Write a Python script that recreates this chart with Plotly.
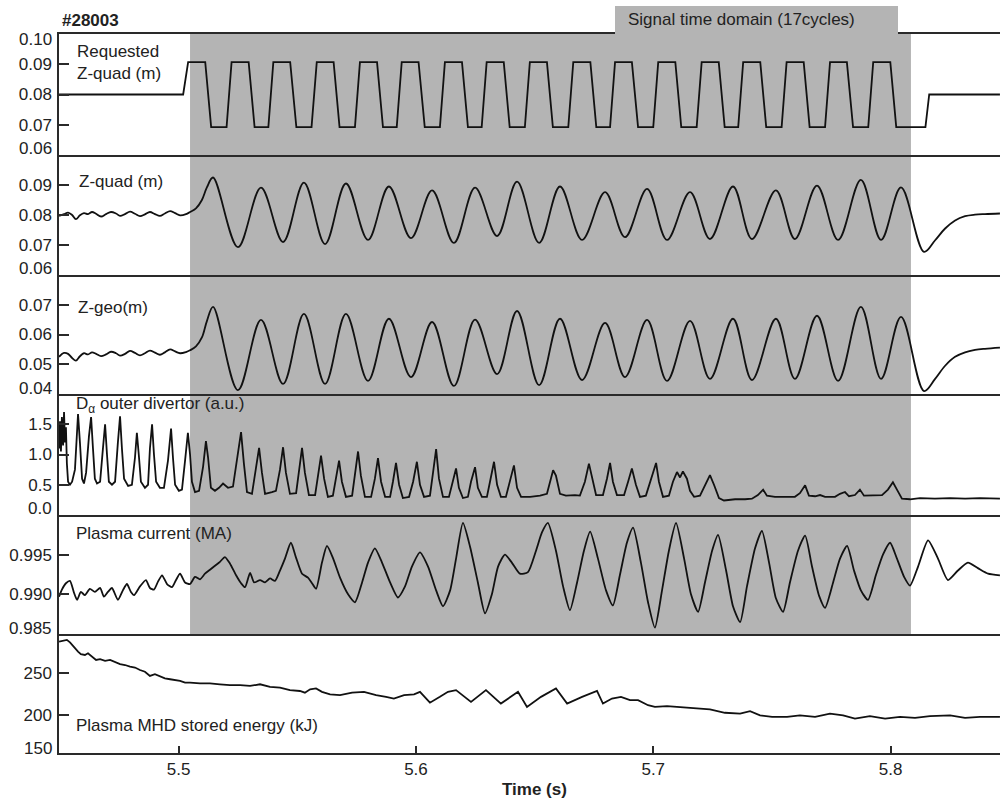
import plotly.graph_objects as go
from plotly.subplots import make_subplots

# ---------------- data (time in s) ----------------
# Requested Z-quad (m)
req_t = [5.4496, 5.5019,
         5.5040, 5.5112, 5.5137, 5.5202,
         5.5223, 5.5295, 5.5320, 5.5378,
         5.5399, 5.5470, 5.5496, 5.5560,
         5.5582, 5.5653, 5.5678, 5.5743,
         5.5764, 5.5836, 5.5861, 5.5919,
         5.5940, 5.6011, 5.6037, 5.6101,
         5.6122, 5.6194, 5.6219, 5.6277,
         5.6298, 5.6370, 5.6395, 5.6459,
         5.6480, 5.6552, 5.6577, 5.6642,
         5.6663, 5.6735, 5.6760, 5.6818,
         5.6839, 5.6910, 5.6936, 5.7000,
         5.7021, 5.7093, 5.7118, 5.7183,
         5.7204, 5.7276, 5.7301, 5.7358,
         5.7379, 5.7451, 5.7476, 5.7541,
         5.7562, 5.7634, 5.7659, 5.7724,
         5.7745, 5.7816, 5.7842, 5.7906,
         5.7927, 5.7999, 5.8024, 5.8147,
         5.8163, 5.8461]
req_z = [0.0800, 0.0800,
         0.0907, 0.0907, 0.0692, 0.0692,
         0.0907, 0.0907, 0.0692, 0.0692,
         0.0907, 0.0907, 0.0692, 0.0692,
         0.0907, 0.0907, 0.0692, 0.0692,
         0.0907, 0.0907, 0.0692, 0.0692,
         0.0907, 0.0907, 0.0692, 0.0692,
         0.0907, 0.0907, 0.0692, 0.0692,
         0.0907, 0.0907, 0.0692, 0.0692,
         0.0907, 0.0907, 0.0692, 0.0692,
         0.0907, 0.0907, 0.0692, 0.0692,
         0.0907, 0.0907, 0.0692, 0.0692,
         0.0907, 0.0907, 0.0692, 0.0692,
         0.0907, 0.0907, 0.0692, 0.0692,
         0.0907, 0.0907, 0.0692, 0.0692,
         0.0907, 0.0907, 0.0692, 0.0692,
         0.0907, 0.0907, 0.0692, 0.0692,
         0.0907, 0.0907, 0.0692, 0.0692,
         0.0800, 0.0800]

# Z-quad and Z-geo (m), common sample times
z_t = [5.4496, 5.4517, 5.4534, 5.4551, 5.4567, 5.4584, 5.4601, 5.4618, 5.4635, 5.4652,
       5.4673, 5.4694, 5.4715, 5.4736, 5.4753, 5.4774, 5.4795, 5.4816, 5.4837, 5.4858,
       5.4879, 5.4900, 5.4921, 5.4942, 5.4964, 5.4985, 5.5006, 5.5031, 5.5048, 5.5073,
       5.5098, 5.5119,
       5.5145, 5.5250, 5.5347, 5.5440, 5.5528, 5.5617, 5.5705, 5.5798, 5.5886, 5.5979,
       5.6068, 5.6160, 5.6249, 5.6342, 5.6426, 5.6519, 5.6607, 5.6700, 5.6797, 5.6881,
       5.6974, 5.7058, 5.7155, 5.7239, 5.7336, 5.7416, 5.7517, 5.7597, 5.7690, 5.7779,
       5.7875, 5.7960, 5.8044, 5.8141,
       5.8187, 5.8230, 5.8272, 5.8314, 5.8356, 5.8398, 5.8461]
zquad = [0.0797, 0.0803, 0.0808, 0.0800, 0.0786, 0.0799, 0.0806, 0.0803, 0.0810, 0.0804,
         0.0795, 0.0803, 0.0810, 0.0805, 0.0797, 0.0803, 0.0811, 0.0804, 0.0796, 0.0802,
         0.0810, 0.0803, 0.0797, 0.0805, 0.0813, 0.0806, 0.0799, 0.0803, 0.0810, 0.0822,
         0.0850, 0.0892,
         0.0925, 0.0693, 0.0891, 0.0710, 0.0908, 0.0703, 0.0905, 0.0717, 0.0895, 0.0723,
         0.0882, 0.0707, 0.0891, 0.0730, 0.0911, 0.0707, 0.0895, 0.0717, 0.0876, 0.0726,
         0.0887, 0.0717, 0.0876, 0.0720, 0.0895, 0.0720, 0.0882, 0.0720, 0.0898, 0.0717,
         0.0917, 0.0717, 0.0892, 0.0677,
         0.0715, 0.0755, 0.0782, 0.0796, 0.0801, 0.0803, 0.0805]
zgeo = [0.0525, 0.0538, 0.0535, 0.0521, 0.0512, 0.0527, 0.0537, 0.0533, 0.0540, 0.0535,
        0.0527, 0.0533, 0.0542, 0.0537, 0.0529, 0.0535, 0.0545, 0.0538, 0.0530, 0.0537,
        0.0546, 0.0539, 0.0532, 0.0540, 0.0550, 0.0543, 0.0537, 0.0541, 0.0547, 0.0560,
        0.0590, 0.0645,
        0.0693, 0.0413, 0.0649, 0.0434, 0.0669, 0.0434, 0.0669, 0.0444, 0.0653, 0.0457,
        0.0642, 0.0427, 0.0650, 0.0467, 0.0679, 0.0430, 0.0653, 0.0447, 0.0639, 0.0457,
        0.0649, 0.0444, 0.0646, 0.0451, 0.0653, 0.0447, 0.0653, 0.0451, 0.0663, 0.0444,
        0.0693, 0.0451, 0.0659, 0.0410,
        0.0450, 0.0495, 0.0525, 0.0540, 0.0548, 0.0552, 0.0556]

# D-alpha outer divertor (a.u.)
da_t = [5.4496, 5.4500, 5.4504, 5.4508, 5.4513, 5.4517, 5.4521, 5.4525, 5.4529, 5.4534,
        5.4542, 5.4551, 5.4563, 5.4576, 5.4584, 5.4593, 5.4601, 5.4610, 5.4622, 5.4631,
        5.4639, 5.4647, 5.4656, 5.4669, 5.4681, 5.4690, 5.4698, 5.4706, 5.4719, 5.4732,
        5.4744, 5.4753, 5.4761, 5.4770, 5.4787, 5.4803, 5.4816, 5.4824, 5.4833, 5.4841,
        5.4858, 5.4871, 5.4879, 5.4888, 5.4896, 5.4905, 5.4921, 5.4938, 5.4955, 5.4968,
        5.4976, 5.4985, 5.5001, 5.5014, 5.5027, 5.5039, 5.5048, 5.5056, 5.5069, 5.5086,
        5.5103, 5.5115, 5.5124, 5.5136, 5.5153, 5.5170, 5.5187, 5.5208, 5.5229, 5.5242,
        5.5263, 5.5275, 5.5288, 5.5309, 5.5322, 5.5339, 5.5351, 5.5364, 5.5393, 5.5410,
        5.5427, 5.5440, 5.5452, 5.5469, 5.5495, 5.5507, 5.5520, 5.5532, 5.5549, 5.5575,
        5.5587, 5.5600, 5.5613, 5.5629, 5.5650, 5.5663, 5.5676, 5.5688, 5.5705, 5.5731,
        5.5743, 5.5756, 5.5768, 5.5785, 5.5811, 5.5827, 5.5840, 5.5853, 5.5870, 5.5891,
        5.5903, 5.5916, 5.5929, 5.5945, 5.5971, 5.5988, 5.6004, 5.6017, 5.6034, 5.6059,
        5.6072, 5.6085, 5.6097, 5.6114, 5.6139, 5.6152, 5.6169, 5.6181, 5.6198, 5.6219,
        5.6232, 5.6249, 5.6261, 5.6278, 5.6299, 5.6312, 5.6329, 5.6342, 5.6358, 5.6379,
        5.6396, 5.6413, 5.6426, 5.6443, 5.6481, 5.6523, 5.6552, 5.6565, 5.6578, 5.6590,
        5.6607, 5.6632, 5.6670, 5.6691, 5.6712, 5.6729, 5.6742, 5.6759, 5.6788, 5.6805,
        5.6818, 5.6830, 5.6847, 5.6877, 5.6894, 5.6910, 5.6927, 5.6944, 5.6969, 5.6986,
        5.7012, 5.7024, 5.7041, 5.7066, 5.7083, 5.7100, 5.7113, 5.7125, 5.7142, 5.7155,
        5.7172, 5.7197, 5.7218, 5.7239, 5.7256, 5.7277, 5.7298, 5.7345, 5.7387, 5.7416,
        5.7441, 5.7463, 5.7479, 5.7513, 5.7555, 5.7597, 5.7618, 5.7640, 5.7656, 5.7682,
        5.7703, 5.7724, 5.7766, 5.7787, 5.7808, 5.7825, 5.7850, 5.7871, 5.7888, 5.7922,
        5.7964, 5.7989, 5.8010, 5.8027, 5.8048, 5.8082, 5.8124, 5.8187, 5.8251, 5.8314,
        5.8377, 5.8461]
da = [1.10, 1.55, 1.05, 1.62, 1.15, 1.70, 1.20, 1.45, 0.85, 0.55,
      0.50, 0.55, 0.75, 1.67, 1.20, 0.60, 0.52, 0.70, 1.30, 1.62,
      1.10, 0.60, 0.52, 0.55, 1.10, 1.50, 1.00, 0.55, 0.50, 0.55,
      1.20, 1.63, 1.10, 0.60, 0.48, 0.50, 0.95, 1.36, 0.95, 0.55,
      0.45, 0.50, 1.10, 1.50, 1.00, 0.55, 0.45, 0.45, 0.90, 1.43,
      0.95, 0.50, 0.40, 0.42, 0.90, 1.36, 1.00, 0.55, 0.38, 0.40,
      0.80, 1.22, 0.95, 0.45, 0.40, 0.45, 0.52, 0.45, 0.47, 0.80,
      1.37, 0.85, 0.38, 0.35, 0.70, 1.11, 0.70, 0.35, 0.38, 0.40,
      0.75, 1.12, 0.70, 0.35, 0.36, 0.70, 1.11, 0.70, 0.33, 0.33,
      0.65, 0.98, 0.60, 0.30, 0.32, 0.60, 0.90, 0.55, 0.30, 0.32,
      0.70, 1.05, 0.65, 0.30, 0.30, 0.60, 0.94, 0.55, 0.30, 0.30,
      0.55, 0.86, 0.50, 0.28, 0.30, 0.55, 0.88, 0.50, 0.30, 0.32,
      0.70, 1.09, 0.60, 0.30, 0.30, 0.50, 0.77, 0.45, 0.28, 0.30,
      0.55, 0.79, 0.45, 0.30, 0.30, 0.55, 0.88, 0.50, 0.30, 0.30,
      0.55, 0.82, 0.45, 0.30, 0.30, 0.32, 0.35, 0.55, 0.74, 0.65,
      0.35, 0.32, 0.33, 0.32, 0.55, 0.85, 0.60, 0.33, 0.33, 0.60,
      0.86, 0.55, 0.33, 0.33, 0.55, 0.77, 0.50, 0.30, 0.32, 0.55,
      0.86, 0.55, 0.30, 0.32, 0.55, 0.71, 0.62, 0.72, 0.60, 0.40,
      0.30, 0.32, 0.50, 0.66, 0.50, 0.28, 0.24, 0.26, 0.26, 0.27,
      0.33, 0.42, 0.32, 0.30, 0.30, 0.30, 0.36, 0.49, 0.32, 0.31,
      0.33, 0.30, 0.30, 0.35, 0.38, 0.31, 0.33, 0.42, 0.32, 0.32,
      0.33, 0.42, 0.54, 0.42, 0.27, 0.26, 0.28, 0.27, 0.28, 0.27,
      0.28, 0.27]

# Plasma current (MA)
ip_t = [5.4496, 5.4508, 5.4525, 5.4542, 5.4559, 5.4572, 5.4588, 5.4605, 5.4626, 5.4647,
        5.4669, 5.4685, 5.4702, 5.4719, 5.4744, 5.4765, 5.4782, 5.4799, 5.4812, 5.4837,
        5.4862, 5.4879, 5.4896, 5.4913, 5.4930, 5.4951, 5.4972, 5.4989, 5.5006, 5.5027,
        5.5048, 5.5069, 5.5090, 5.5111, 5.5132, 5.5153, 5.5174, 5.5195, 5.5216, 5.5242,
        5.5263, 5.5280, 5.5301, 5.5318, 5.5343, 5.5364, 5.5385, 5.5406, 5.5427, 5.5448,
        5.5473, 5.5495, 5.5520, 5.5545, 5.5562, 5.5579, 5.5604, 5.5625, 5.5650, 5.5680,
        5.5714, 5.5743, 5.5773, 5.5798, 5.5827, 5.5857, 5.5891, 5.5924, 5.5954, 5.5983,
        5.6017, 5.6051, 5.6085, 5.6114, 5.6144, 5.6169, 5.6198, 5.6228, 5.6261, 5.6291,
        5.6320, 5.6346, 5.6375, 5.6404, 5.6438, 5.6472, 5.6506, 5.6531, 5.6556, 5.6590,
        5.6620, 5.6649, 5.6679, 5.6708, 5.6734, 5.6767, 5.6801, 5.6830, 5.6860, 5.6889,
        5.6915, 5.6948, 5.6978, 5.7007, 5.7037, 5.7066, 5.7096, 5.7130, 5.7159, 5.7189,
        5.7218, 5.7248, 5.7273, 5.7307, 5.7336, 5.7366, 5.7395, 5.7429, 5.7458, 5.7488,
        5.7517, 5.7547, 5.7576, 5.7610, 5.7640, 5.7669, 5.7699, 5.7724, 5.7758, 5.7787,
        5.7817, 5.7846, 5.7875, 5.7905, 5.7939, 5.7968, 5.7998, 5.8027, 5.8057, 5.8082,
        5.8116, 5.8158, 5.8200, 5.8242, 5.8284, 5.8326, 5.8368, 5.8411, 5.8461]
ip = [0.9897, 0.9906, 0.9914, 0.9917, 0.9902, 0.9893, 0.9903, 0.9899, 0.9907, 0.9903,
      0.9908, 0.9897, 0.9903, 0.9908, 0.9893, 0.9905, 0.9913, 0.9903, 0.9899, 0.9910,
      0.9918, 0.9908, 0.9906, 0.9916, 0.9924, 0.9913, 0.9909, 0.9918, 0.9926, 0.9915,
      0.9913, 0.9922, 0.9919, 0.9926, 0.9931, 0.9936, 0.9941, 0.9947, 0.9939, 0.9924,
      0.9914, 0.9909, 0.9927, 0.9915, 0.9918, 0.9915, 0.9920, 0.9917, 0.9930, 0.9945,
      0.9965, 0.9946, 0.9926, 0.9921, 0.9914, 0.9907, 0.9940, 0.9961, 0.9946, 0.9921,
      0.9900, 0.9890, 0.9915, 0.9940, 0.9958, 0.9940, 0.9915, 0.9896, 0.9910, 0.9935,
      0.9953, 0.9935, 0.9905, 0.9885, 0.9905, 0.9945, 0.9990, 0.9960, 0.9915, 0.9876,
      0.9900, 0.9935, 0.9950, 0.9940, 0.9926, 0.9928, 0.9955, 0.9978, 0.9990, 0.9955,
      0.9910, 0.9880, 0.9915, 0.9955, 0.9979, 0.9945, 0.9905, 0.9886, 0.9925, 0.9965,
      0.9984, 0.9940, 0.9890, 0.9858, 0.9905, 0.9955, 0.9990, 0.9945, 0.9900, 0.9878,
      0.9915, 0.9955, 0.9975, 0.9930, 0.9885, 0.9865, 0.9910, 0.9958, 0.9980, 0.9940,
      0.9895, 0.9878, 0.9915, 0.9955, 0.9974, 0.9935, 0.9898, 0.9883, 0.9915, 0.9945,
      0.9961, 0.9930, 0.9905, 0.9893, 0.9925, 0.9950, 0.9965, 0.9945, 0.9922, 0.9911,
      0.9935, 0.9968, 0.9945, 0.9918, 0.9930, 0.9940, 0.9933, 0.9926, 0.9924]

# Plasma MHD stored energy (kJ)
w_t = [5.4496, 5.4513, 5.4529, 5.4542, 5.4559, 5.4576, 5.4588, 5.4605, 5.4618, 5.4635,
       5.4652, 5.4669, 5.4690, 5.4711, 5.4732, 5.4753, 5.4774, 5.4795, 5.4816, 5.4837,
       5.4858, 5.4879, 5.4900, 5.4921, 5.4942, 5.4964, 5.4985, 5.5006, 5.5027, 5.5048,
       5.5090, 5.5132, 5.5174, 5.5216, 5.5259, 5.5301, 5.5343, 5.5385, 5.5427, 5.5469,
       5.5511, 5.5532, 5.5554, 5.5579, 5.5604, 5.5638, 5.5680, 5.5731, 5.5781, 5.5832,
       5.5874, 5.5907, 5.5950, 5.5992, 5.6017, 5.6038, 5.6059, 5.6101, 5.6135, 5.6169,
       5.6232, 5.6295, 5.6358, 5.6430, 5.6468, 5.6527, 5.6590, 5.6637, 5.6700, 5.6763,
       5.6788, 5.6826, 5.6864, 5.6902, 5.6936, 5.6978, 5.7007, 5.7058, 5.7113, 5.7184,
       5.7239, 5.7302, 5.7366, 5.7408, 5.7450, 5.7501, 5.7564, 5.7618, 5.7682, 5.7745,
       5.7800, 5.7850, 5.7913, 5.7977, 5.8040, 5.8103, 5.8166, 5.8251, 5.8314, 5.8377,
       5.8461]
w = [288, 289, 290, 287, 281, 276, 273, 272, 274, 270,
     266, 267, 265, 266, 263, 261, 260, 258, 257, 254,
     252, 247, 249, 246, 244, 243, 242, 241, 239, 239,
     238, 238, 237, 236, 236, 235, 237, 234, 233, 230,
     229, 227, 231, 232, 228, 225, 224, 227, 228, 224,
     222, 220, 224, 225, 228, 222, 215, 222, 228, 230,
     216, 230, 214, 228, 210, 222, 232, 214, 222, 229,
     214, 220, 222, 218, 218, 212, 210, 211, 210, 208,
     207, 203, 202, 205, 200, 198, 198, 200, 198, 202,
     200, 196, 199, 196, 198, 197, 199, 200, 197, 198,
     198]

# axis ticks
x_ticks = [5.5, 5.6, 5.7, 5.8]
panel_ticks = [[0.07, 0.08, 0.09], [0.07, 0.08, 0.09], [0.05, 0.06, 0.07],
               [0.5, 1.0, 1.5], [0.990, 0.995], [200, 250]]
panel_ticktext = [["0.07", "0.08", "0.09"], ["0.07", "0.08", "0.09"], ["0.05", "0.06", "0.07"],
                  ["0.5", "1.0", "1.5"], ["0.990", "0.995"], ["200", "250"]]
panel_ranges = [[0.06, 0.10], [0.06, 0.10], [0.04, 0.08], [0.0, 2.0], [0.985, 1.0], [155, 297]]
signal_domain = [5.5048, 5.8086]

# ---------------- figure ----------------
W_PX, H_PX = 1000, 800
ML, MR, MT, MB = 59, 0, 34, 47
plot_h = H_PX - MT - MB
plot_w = W_PX - ML - MR
bounds_px = [34, 155, 275, 394, 515, 634, 753]


def py(px):
    return (H_PX - MB - px) / plot_h


def pxx(px):
    return (px - ML) / plot_w


fig = make_subplots(rows=6, cols=1, shared_xaxes=True, vertical_spacing=0)
LC = "#111111"
lw = 1.8
fig.add_trace(go.Scatter(x=req_t, y=req_z, mode="lines", line=dict(color=LC, width=lw)), row=1, col=1)
fig.add_trace(go.Scatter(x=z_t, y=zquad, mode="lines",
                         line=dict(color=LC, width=lw, shape="spline", smoothing=1.0)), row=2, col=1)
fig.add_trace(go.Scatter(x=z_t, y=zgeo, mode="lines",
                         line=dict(color=LC, width=lw, shape="spline", smoothing=1.0)), row=3, col=1)
fig.add_trace(go.Scatter(x=da_t, y=da, mode="lines", line=dict(color=LC, width=lw)), row=4, col=1)
fig.add_trace(go.Scatter(x=ip_t, y=ip, mode="lines",
                         line=dict(color=LC, width=lw, shape="spline", smoothing=0.6)), row=5, col=1)
fig.add_trace(go.Scatter(x=w_t, y=w, mode="lines", line=dict(color=LC, width=lw)), row=6, col=1)

FONT = "Liberation Sans, Arial, sans-serif"
TXT = "#222222"
AX = "#2a2a2a"
FS = 17
xr = [5.45 + (ML - 60) * 0.00042141, 5.45 + (W_PX - 60) * 0.00042141]

for i in range(6):
    n = "" if i == 0 else str(i + 1)
    fig.layout["yaxis" + n].update(
        domain=[py(bounds_px[i + 1]), py(bounds_px[i])],
        range=panel_ranges[i], tickvals=panel_ticks[i], ticktext=panel_ticktext[i],
        ticks="inside", ticklen=10, tickwidth=1.5, tickcolor=AX,
        showline=True, linecolor=AX, linewidth=1.5, showgrid=False, zeroline=False,
        tickfont=dict(family=FONT, size=FS, color=TXT), ticklabelstandoff=2,
    )
    fig.layout["xaxis" + n].update(
        range=xr, showline=True, mirror=(i == 0), linecolor=AX, linewidth=1.5,
        showgrid=False, zeroline=False,
        tickvals=x_ticks, ticktext=["5.5", "5.6", "5.7", "5.8"],
        ticks="inside" if i == 5 else "", ticklen=7, tickwidth=1.5, tickcolor=AX,
        showticklabels=(i == 5), tickfont=dict(family=FONT, size=FS, color=TXT),
    )

shapes = [
    dict(type="rect", xref="x", yref="paper", x0=signal_domain[0], x1=signal_domain[1],
         y0=py(634), y1=py(34), fillcolor="#b4b4b4", line=dict(width=0), layer="below"),
    dict(type="rect", xref="paper", yref="paper", x0=pxx(615), x1=pxx(898),
         y0=py(35.5), y1=py(6), fillcolor="#b4b4b4", line=dict(width=0), layer="above"),
]

ann = []


def add_text(text, xpx, ypx, size=FS, bold=False, xanchor="left", align="left"):
    ann.append(dict(text=("<b>%s</b>" % text) if bold else text, x=pxx(xpx), y=py(ypx),
                    xref="paper", yref="paper", showarrow=False, xanchor=xanchor, yanchor="middle",
                    align=align, font=dict(family=FONT, size=size, color=TXT)))


add_text("#28003", 60, 21, size=17, bold=True)
add_text("Signal time domain (17cycles)", 741.5, 20, xanchor="center")
add_text("Requested<br>Z-quad (m)", 75, 63)
add_text("Z-quad (m)", 77, 181)
add_text("Z-geo(m)", 76, 307)
add_text("D<sub>α</sub> outer divertor (a.u.)", 74, 405)
add_text("Plasma current (MA)", 74, 533)
add_text("Plasma MHD stored energy (kJ)", 74, 725)
add_text("Time (s)", 534, 790, bold=True, xanchor="center")

for lab, ypx in [("0.10", 40), ("0.06", 148), ("0.06", 268), ("0.04", 388),
                 ("0.0", 508), ("0.985", 628), ("150", 748)]:
    add_text(lab, 54, ypx, xanchor="right")

fig.update_layout(
    width=W_PX, height=H_PX, margin=dict(l=ML, r=MR, t=MT, b=MB),
    paper_bgcolor="white", plot_bgcolor="rgba(0,0,0,0)", showlegend=False,
    shapes=shapes, annotations=ann, font=dict(family=FONT, color=TXT),
)
fig.write_html("out.html")
